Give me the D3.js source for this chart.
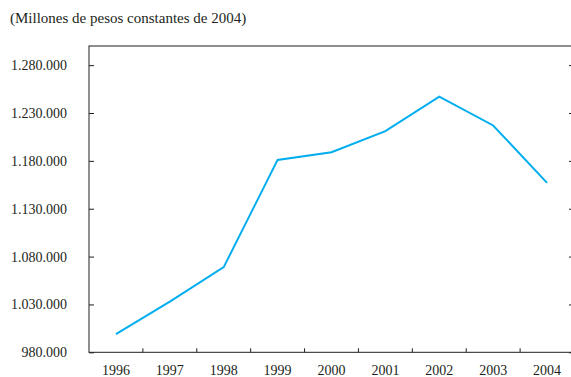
<!DOCTYPE html>
<html>
<head>
<meta charset="utf-8">
<script src="https://cdn.jsdelivr.net/npm/d3@7/dist/d3.min.js"></script>
<style>
  html, body { margin: 0; padding: 0; background: #fff; }
  svg { display: block; }
</style>
</head>
<body>
<svg id="chart" width="571" height="377"></svg>
<script>
// Serie anual, millones de pesos constantes de 2004
const years = ["1996", "1997", "1998", "1999", "2000", "2001", "2002", "2003", "2004"];
const values = [999000, 1033000, 1069000, 1181000, 1189000, 1211000, 1247000, 1217000, 1157000];
const yTicks = [980000, 1030000, 1080000, 1130000, 1180000, 1230000, 1280000];
const yDomain = [980000, 1300000];
const unitLabel = "(Millones de pesos constantes de 2004)";

const svg = d3.select("#chart");
const plotLeft = 89, plotRight = 574, plotTop = 46, plotBottom = 352.3;
const ink = "#231f20";
const serif = "Liberation Serif";

const x = d3.scaleBand().domain(years).range([plotLeft, plotRight]).paddingInner(0).paddingOuter(0);
const y = d3.scaleLinear().domain(yDomain).range([plotBottom, plotTop]);

const es = d3.formatLocale({ decimal: ",", thousands: ".", grouping: [3], currency: ["$", ""] });
const fmt = es.format(",d");

// Unit caption
svg.append("text")
  .attr("x", 10).attr("y", 23)
  .attr("font-family", serif)
  .attr("font-size", 15).attr("fill", ink)
  .text(unitLabel);

// Frame
svg.append("rect")
  .attr("x", plotLeft).attr("y", plotTop)
  .attr("width", plotRight - plotLeft).attr("height", plotBottom - plotTop)
  .attr("fill", "none").attr("stroke", ink).attr("stroke-width", 1);

// Left axis: inward ticks and labels
const yAxis = svg.append("g")
  .attr("transform", `translate(${plotLeft},0)`)
  .call(d3.axisLeft(y).tickValues(yTicks).tickFormat(fmt).tickSizeInner(-5).tickSizeOuter(0).tickPadding(22));
yAxis.attr("font-family", serif).attr("font-size", 14);
yAxis.select(".domain").remove();
yAxis.selectAll("line").attr("stroke", ink);
yAxis.selectAll("text").attr("fill", ink);

// Right side inward ticks
const yAxisR = svg.append("g")
  .attr("transform", `translate(${plotRight},0)`)
  .call(d3.axisRight(y).tickValues(yTicks).tickFormat("").tickSizeInner(-5).tickSizeOuter(0));
yAxisR.select(".domain").remove();
yAxisR.selectAll("line").attr("stroke", ink);

// Bottom axis: ticks at band boundaries, labels centred in each band
svg.append("g").selectAll("line")
  .data(years.slice(1))
  .join("line")
  .attr("x1", d => x(d)).attr("x2", d => x(d))
  .attr("y1", plotBottom).attr("y2", plotBottom - 4)
  .attr("stroke", ink);

svg.append("g").selectAll("text")
  .data(years)
  .join("text")
  .attr("x", d => x(d) + x.bandwidth() / 2)
  .attr("y", plotBottom + 23)
  .attr("text-anchor", "middle")
  .attr("font-family", serif)
  .attr("font-size", 14).attr("fill", ink)
  .text(d => d);

// Series line
const line = d3.line()
  .x((d, i) => x(years[i]) + x.bandwidth() / 2)
  .y(d => y(d));

svg.append("path")
  .datum(values)
  .attr("d", line)
  .attr("fill", "none")
  .attr("stroke", "#00aeef")
  .attr("stroke-width", 2)
  .attr("stroke-linejoin", "miter");
</script>
</body>
</html>
